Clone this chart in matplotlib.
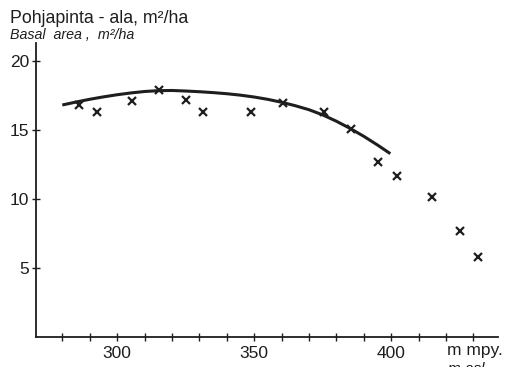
import matplotlib
matplotlib.use("Agg")
import matplotlib.pyplot as plt
from matplotlib.ticker import MultipleLocator, FixedLocator

# Observed plots (altitude m a.s.l., basal area m2/ha)
obs_alt = [286, 292.8, 305.5, 315.4, 325.2, 331.5, 348.8, 360.7, 375.5, 385.4,
           395.3, 402.2, 415, 425.1, 431.6]
obs_ba = [16.8, 16.3, 17.1, 17.9, 17.15, 16.3, 16.3, 16.95, 16.3, 15.05,
          12.67, 11.67, 10.1, 7.65, 5.75]

# Fitted curve
fit_alt = [280, 285, 290, 295, 300, 305, 310, 315, 320, 325, 330, 335, 340,
           345, 350, 355, 360, 365, 370, 375, 380, 385, 390, 395, 399.7]
fit_ba = [16.80, 17.015, 17.215, 17.39, 17.545, 17.675, 17.78, 17.84, 17.855,
          17.815, 17.765, 17.70, 17.62, 17.515, 17.38, 17.21, 17.00, 16.75,
          16.46, 16.085, 15.625, 15.105, 14.53, 13.90, 13.27]

x_major = [300, 350, 400]
y_major = [5, 10, 15, 20]

plt.rcParams['font.family'] = ['Liberation Sans', 'DejaVu Sans']
ink = '#1e1e1e'

fig = plt.figure(figsize=(5.1, 3.67), dpi=100)
ax = fig.add_axes([36/510, (367-336.5)/367, (498-36)/510, (336.5-43)/367])

ax.plot(fit_alt, fit_ba, color=ink, lw=2.2, solid_capstyle='butt')
ax.plot(obs_alt, obs_ba, linestyle='none', marker='x', ms=5.8, mew=1.6, color=ink)

ax.set_xlim(270.4, 439)
ax.set_ylim(0, 21.3)
ax.spines['top'].set_visible(False)
ax.spines['right'].set_visible(False)
for s in ('left', 'bottom'):
    ax.spines[s].set_color(ink)
    ax.spines[s].set_linewidth(1.3)

ax.xaxis.set_major_locator(FixedLocator(x_major))
ax.xaxis.set_minor_locator(MultipleLocator(10))
ax.yaxis.set_major_locator(FixedLocator(y_major))
ax.tick_params(axis='both', which='both', direction='inout', color=ink,
               width=1.0, length=6, labelsize=12.5, labelcolor=ink)
ax.tick_params(axis='x', which='major', pad=4)
ax.tick_params(axis='y', which='major', pad=2)

fig.text(10/510, 1 - 23/367, 'Pohjapinta - ala, m²/ha', fontsize=12.8, color=ink)
fig.text(10/510, 1 - 39/367, 'Basal  area ,  m²/ha', fontsize=10.3, style='italic', color=ink)
fig.text(447/510, 1 - 355/367, 'm mpy.', fontsize=12.5, color=ink)
fig.text(448/510, 1 - 373/367, 'm asl', fontsize=11, style='italic', color=ink)

fig.savefig('out.png', dpi=100)
